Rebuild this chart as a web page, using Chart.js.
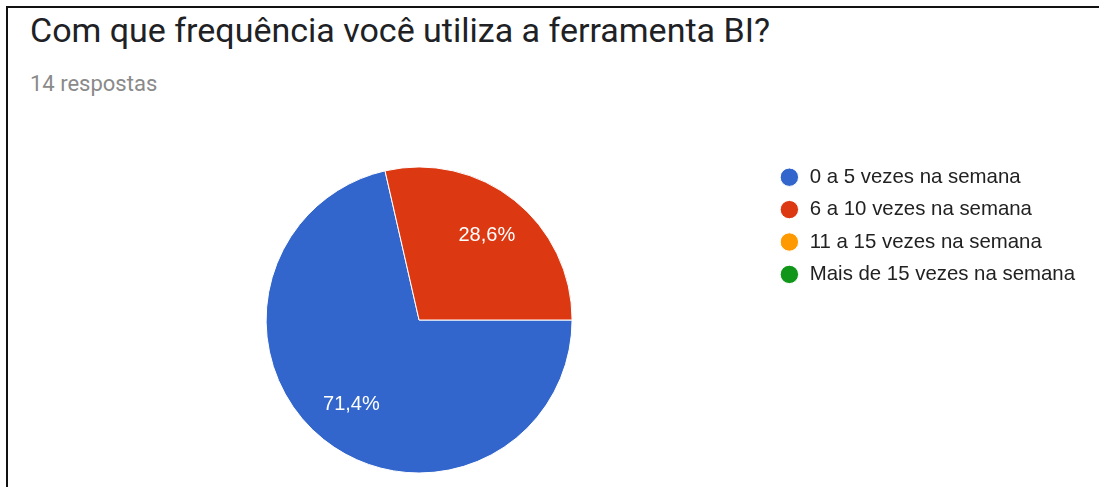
<!DOCTYPE html>
<html lang="pt-BR">
<head>
<meta charset="utf-8">
<title>Com que frequência você utiliza a ferramenta BI?</title>
<script src="https://cdn.jsdelivr.net/npm/chart.js@4.4.1/dist/chart.umd.min.js"></script>
<style>
    html, body {
        margin: 0;
        padding: 0;
        background: #fff;
        width: 1099px;
        height: 487px;
        overflow: hidden;
    }
    .frame {
        position: absolute;
        left: 6px;
        top: 6px;
        width: 1093px;
        height: 481px;
        border-top: 2px solid #111;
        border-left: 2px solid #111;
    }
    .titulo {
        position: absolute;
        left: 30px;
        top: 13px;
        font: 34px/34px Roboto, sans-serif;
        color: #202124;
        white-space: nowrap;
    }
    .respostas {
        position: absolute;
        left: 30px;
        top: 73px;
        font: 22px/22px Roboto, sans-serif;
        color: #8a8a8a;
        white-space: nowrap;
    }
    .grafico {
        position: absolute;
        left: 0;
        top: 0;
        width: 1099px;
        height: 487px;
    }
</style>
</head>
<body>
<div class="frame"></div>
<div class="titulo">Com que frequência você utiliza a ferramenta BI?</div>
<div class="respostas">14 respostas</div>
<div class="grafico"><canvas id="graficoFrequencia"></canvas></div>

<script>
// dados do formulário (14 respostas)
const categorias = ['0 a 5 vezes na semana', '6 a 10 vezes na semana', '11 a 15 vezes na semana', 'Mais de 15 vezes na semana'];
const respostas = [10, 4, 0, 0];
const cores = ['#3366cc', '#dc3912', '#ff9900', '#109618'];

const totalRespostas = respostas.reduce((a, b) => a + b, 0);

// escreve a porcentagem dentro de cada fatia
const rotulosFatias = {
    id: 'rotulosFatias',
    afterDatasetsDraw(chart) {
        const ctx = chart.ctx;
        const meta = chart.getDatasetMeta(0);
        ctx.save();
        ctx.font = '20px "Liberation Sans", Arial, sans-serif';
        ctx.fillStyle = '#ffffff';
        ctx.textAlign = 'center';
        ctx.textBaseline = 'middle';
        meta.data.forEach((arc, i) => {
            const valor = respostas[i];
            if (!valor) return;
            const p = arc.getProps(['x', 'y', 'startAngle', 'endAngle', 'outerRadius'], true);
            const meio = (p.startAngle + p.endAngle) / 2;
            const r = p.outerRadius * 0.71;
            const texto = (valor / totalRespostas * 100).toFixed(1).replace('.', ',') + '%';
            ctx.fillText(texto, p.x + Math.cos(meio) * r, p.y + Math.sin(meio) * r);
        });
        ctx.restore();
    }
};

const ctx = document.getElementById('graficoFrequencia').getContext('2d');

new Chart(ctx, {
    type: 'pie',
    data: {
        labels: categorias,
        datasets: [{
            data: respostas,
            backgroundColor: cores,
            borderColor: '#ffffff',
            borderWidth: 1,
            radius: 153,
        }]
    },
    options: {
        responsive: true,
        maintainAspectRatio: false,
        animation: false,
        rotation: 90,
        layout: {
            padding: {left: 71, right: 14, top: 155, bottom: 2}
        },
        plugins: {
            legend: {
                position: 'right',
                align: 'start',
                labels: {
                    usePointStyle: true,
                    pointStyle: 'circle',
                    boxHeight: 13,
                    padding: 12,
                    color: '#222222',
                    font: {family: '"Liberation Sans", Arial, sans-serif', size: 20.4}
                }
            },
            tooltip: {enabled: false}
        }
    },
    plugins: [rotulosFatias]
});
</script>
</body>
</html>
